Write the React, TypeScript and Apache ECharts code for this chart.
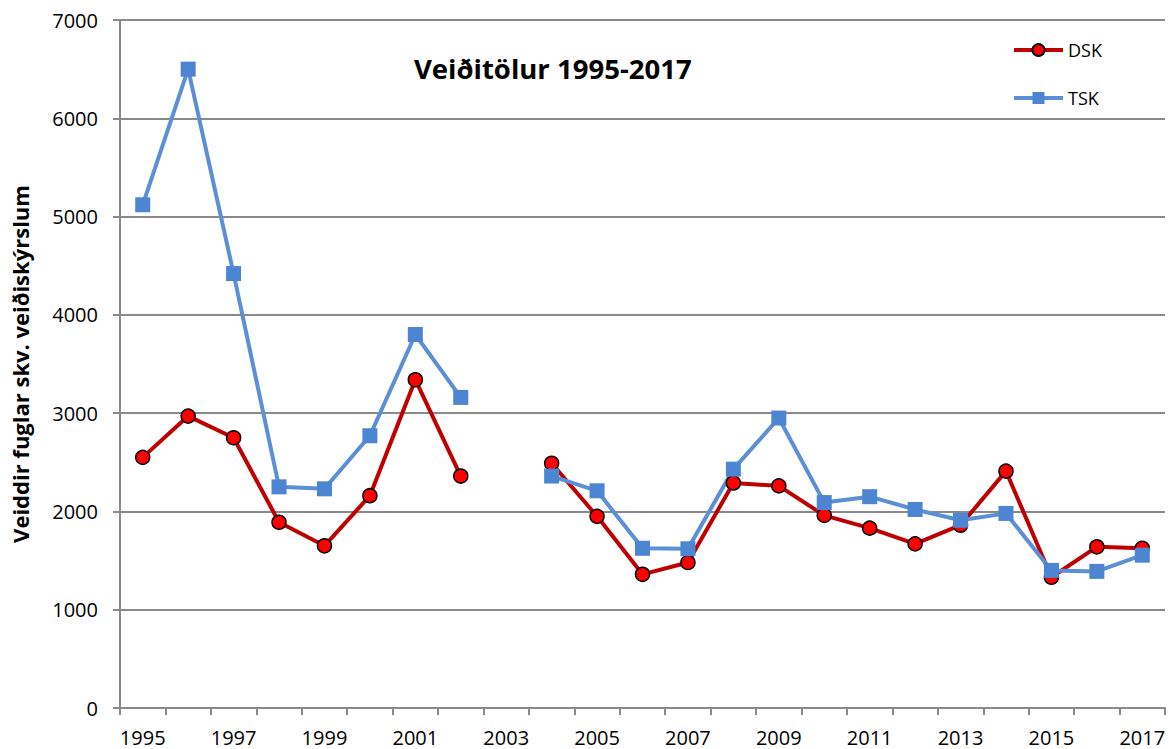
import React, { useEffect, useRef } from "react";
import * as echarts from "echarts";

const years = [
  "1995", "1996", "1997", "1998", "1999", "2000", "2001", "2002", "2003", "2004", "2005", "2006",
  "2007", "2008", "2009", "2010", "2011", "2012", "2013", "2014", "2015", "2016", "2017",
];

const dsk = [
  2550, 2970, 2750, 1890, 1650, 2160, 3340, 2360, null, 2490, 1950, 1360,
  1480, 2290, 2260, 1960, 1830, 1670, 1860, 2410, 1330, 1640, 1625,
];

const tsk = [
  5120, 6500, 4420, 2250, 2230, 2770, 3800, 3160, null, 2360, 2210, 1625,
  1620, 2430, 2950, 2090, 2150, 2020, 1910, 1980, 1400, 1390, 1555,
];

const titleText = "Veiðitölur 1995-2017";
const yAxisName = "Veiddir fuglar skv. veiðiskýrslum";

const FONT = "'Open Sans', 'DejaVu Sans', sans-serif";

export default function App() {
  const ref = useRef<HTMLDivElement>(null);

  useEffect(() => {
    if (!ref.current) return;
    const chart = echarts.init(ref.current, undefined, { renderer: "svg" });
    chart.setOption({
      animation: false,
      backgroundColor: "#ffffff",
      textStyle: { fontFamily: FONT },
      title: {
        text: titleText,
        left: 414,
        top: 54,
        padding: 0,
        textStyle: { fontFamily: FONT, fontSize: 27.5, fontWeight: "bold", color: "#000" },
      },
      legend: {
        orient: "vertical",
        left: 1012,
        top: 40,
        itemWidth: 49,
        itemHeight: 15,
        itemGap: 28,
        padding: 0,
        lineStyle: { width: 4 },
        textStyle: { fontFamily: FONT, fontSize: 18, color: "#000", lineHeight: 20 },
        data: ["DSK", "TSK"],
      },
      grid: { left: 120, right: 4, top: 20, bottom: 41, containLabel: false },
      xAxis: {
        type: "category",
        data: years,
        boundaryGap: true,
        axisLine: { show: true, lineStyle: { color: "#8a8a8a", width: 2 } },
        axisTick: { show: true, interval: 0, length: 7, lineStyle: { color: "#8a8a8a", width: 2 } },
        axisLabel: { interval: 1, fontSize: 20, color: "#000", fontFamily: FONT, margin: 19 },
        splitLine: { show: false },
      },
      yAxis: {
        type: "value",
        min: 0,
        max: 7000,
        interval: 1000,
        name: yAxisName,
        nameLocation: "middle",
        nameRotate: 90,
        nameGap: 89,
        nameTextStyle: { fontFamily: FONT, fontSize: 22, fontWeight: "bold", color: "#000" },
        axisLine: { show: true, lineStyle: { color: "#8a8a8a", width: 2 } },
        axisTick: { show: true, length: 7, lineStyle: { color: "#8a8a8a", width: 2 } },
        axisLabel: {
          fontSize: 20,
          color: "#000",
          fontFamily: FONT,
          margin: 22,
          formatter: (v: number) => String(v),
        },
        splitLine: { show: true, lineStyle: { color: "#8a8a8a", width: 2 } },
      },
      series: [
        {
          name: "DSK",
          type: "line",
          data: dsk,
          connectNulls: false,
          symbol: "circle",
          symbolSize: 14,
          lineStyle: { color: "#C00000", width: 4 },
          itemStyle: { color: "#FF0000", borderColor: "#000", borderWidth: 1.5 },
          emphasis: { disabled: true },
        },
        {
          name: "TSK",
          type: "line",
          data: tsk,
          connectNulls: false,
          symbol: "rect",
          symbolSize: 15,
          lineStyle: { color: "#5B8FD6", width: 4 },
          itemStyle: { color: "#4C86D2", borderWidth: 0 },
          emphasis: { disabled: true },
        },
      ],
    });
    return () => chart.dispose();
  }, []);

  return (
    <div
      ref={ref}
      style={{ position: "fixed", left: 0, top: 0, width: 1169, height: 749, background: "#fff" }}
    />
  );
}
